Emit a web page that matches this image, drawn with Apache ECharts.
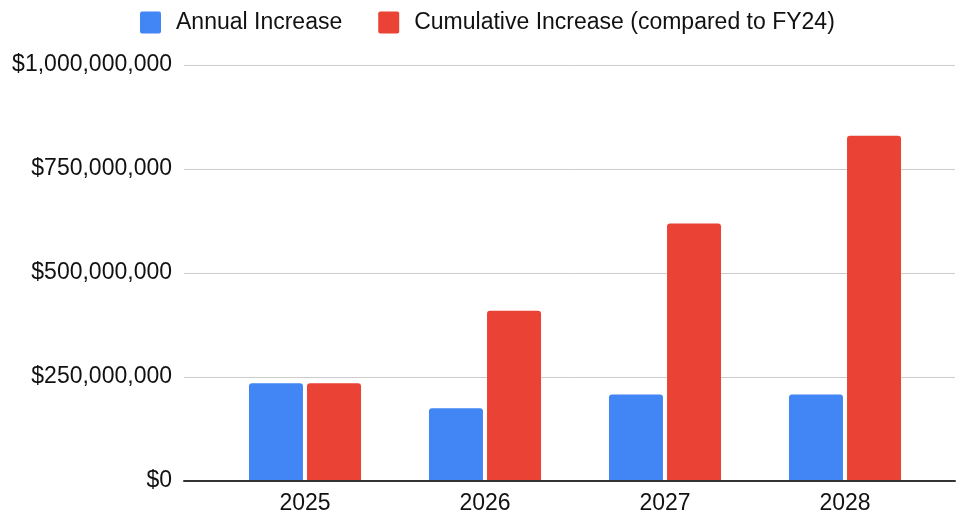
<!DOCTYPE html>
<html>
<head>
<meta charset="utf-8">
<script src="https://cdn.jsdelivr.net/npm/echarts@6/dist/echarts.min.js"></script>
<style>
  html, body { margin: 0; padding: 0; background: #fff; }
  #chart { width: 956px; height: 517px; }
</style>
</head>
<body>
<div id="chart"></div>
<script>
// Fiscal years on the category axis
const years = ['2025', '2026', '2027', '2028'];
// Year-over-year increase, in dollars
const annualIncrease = [235000000, 175000000, 208000000, 208000000];
// Running total of increases relative to FY24, in dollars
const cumulativeIncrease = [235000000, 409000000, 619000000, 830000000];
// Value axis range and step
const yMin = 0;
const yMax = 1000000000;
const yStep = 250000000;

const FONT = '"Liberation Sans", Arial, sans-serif';
// square legend swatch with slightly rounded corners
const SWATCH = 'path://M2,0H19Q21,0 21,2V20Q21,22 19,22H2Q0,22 0,20V2Q0,0 2,0Z';

function money(v) {
  return '$' + Math.round(v).toString().replace(/\B(?=(\d{3})+(?!\d))/g, ',');
}

const chart = echarts.init(document.getElementById('chart'), null, { renderer: 'canvas' });

chart.setOption({
  animation: false,
  backgroundColor: '#ffffff',
  textStyle: { fontFamily: FONT },
  legend: {
    left: 135,
    top: 6,
    itemWidth: 21,
    itemHeight: 22,
    itemGap: 36,
    icon: SWATCH,
    textStyle: { fontFamily: FONT, fontSize: 23, color: '#111111', padding: [0, 0, 0, 10] },
    data: ['Annual Increase', 'Cumulative Increase (compared to FY24)']
  },
  grid: [
    // background grid: gridlines, value labels and baseline across the full width
    { left: 184, right: 1, top: 65, bottom: 36 },
    // plot grid holding the bar groups
    { left: 215, right: 21, top: 65, bottom: 36 }
  ],
  xAxis: [
    {
      gridIndex: 0,
      type: 'category',
      data: years,
      axisLine: { show: true, lineStyle: { color: '#333333', width: 2 } },
      axisTick: { show: false },
      axisLabel: { show: false },
      z: 5
    },
    {
      gridIndex: 1,
      type: 'category',
      data: years,
      axisLine: { show: false },
      axisTick: { show: false },
      axisLabel: { fontFamily: FONT, fontSize: 23, color: '#111111', margin: 11 }
    }
  ],
  yAxis: [
    {
      gridIndex: 0,
      type: 'value',
      min: yMin,
      max: yMax,
      interval: yStep,
      axisLine: { show: false },
      axisTick: { show: false },
      axisLabel: { fontFamily: FONT, fontSize: 23, color: '#111111', margin: 12, padding: [8, 0, 0, 0], formatter: money },
      splitLine: { lineStyle: { color: '#cccccc', width: 1 } }
    },
    {
      gridIndex: 1,
      type: 'value',
      min: yMin,
      max: yMax,
      interval: yStep,
      show: false,
      splitLine: { show: false }
    }
  ],
  series: [
    {
      name: 'Annual Increase',
      type: 'bar',
      xAxisIndex: 1,
      yAxisIndex: 1,
      data: annualIncrease,
      barWidth: 54,
      barGap: '7.5%',
      itemStyle: { color: '#4285F4', borderRadius: [3, 3, 0, 0] }
    },
    {
      name: 'Cumulative Increase (compared to FY24)',
      type: 'bar',
      xAxisIndex: 1,
      yAxisIndex: 1,
      data: cumulativeIncrease,
      barWidth: 54,
      barGap: '7.5%',
      itemStyle: { color: '#EA4335', borderRadius: [3, 3, 0, 0] }
    }
  ]
});
</script>
</body>
</html>
